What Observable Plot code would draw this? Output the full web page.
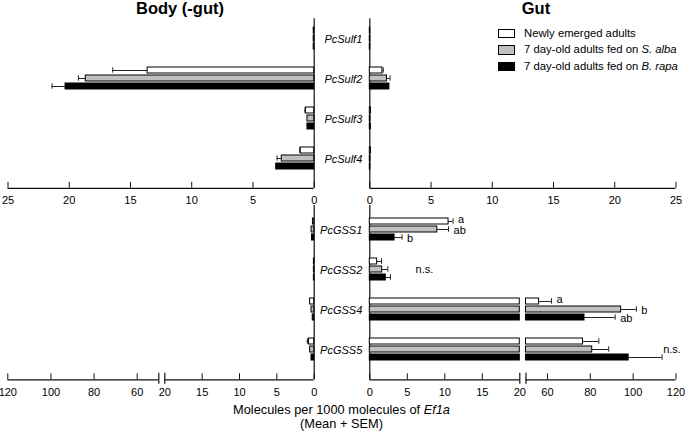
<!DOCTYPE html>
<html>
<head>
<meta charset="utf-8">
<script src="https://cdn.jsdelivr.net/npm/d3@7"></script>
<script src="https://cdn.jsdelivr.net/npm/@observablehq/plot@0.6"></script>
<style>
  body { margin: 0; background: #fff; }
  #chart { position: relative; width: 685px; height: 433px; overflow: hidden;
           font-family: "Liberation Sans", Arial, sans-serif; color: #000; }
  #chart svg { position: absolute; left: 0; top: 0; }
  .title { position: absolute; top: 0; font-weight: bold; font-size: 16.5px; line-height: 17px;
           transform: translateX(-50%); white-space: nowrap; }
  .leg { position: absolute; left: 498px; height: 10px; white-space: nowrap; font-size: 11.3px; }
  .leg .box { position: absolute; left: 0; top: 0; width: 14.5px; height: 7.5px; border: 1px solid #000; }
  .leg .lab { position: absolute; left: 26px; top: -2px; line-height: 13px; }
  .xtitle { position: absolute; left: 341.5px; transform: translateX(-50%); white-space: nowrap;
            font-size: 12.8px; text-align: center; line-height: 14px; }
</style>
</head>
<body>
<div id="chart"></div>
<script>
// ---------------- data ----------------
const groups = ["Newly emerged adults", "7 day-old adults fed on S. alba", "7 day-old adults fed on B. rapa"];
const sulfGenes = ["PcSulf1", "PcSulf2", "PcSulf3", "PcSulf4"];
const gssGenes = ["PcGSS1", "PcGSS2", "PcGSS4", "PcGSS5"];

// Body (-gut), sulfatases: mean and SEM per gene x group
const bodySulfMean = [[0.04, 0.04, 0.04], [13.6, 18.65, 20.3], [0.68, 0.55, 0.55], [1.1, 2.65, 3.1]];
const bodySulfSem  = [[0, 0, 0], [2.85, 0.6, 1.1], [0.07, 0, 0], [0.08, 0.38, 0]];
// Gut, sulfatases
const gutSulfMean = [[0.04, 0.04, 0.04], [1.03, 1.4, 1.6], [0.1, 0.05, 0.08], [0.1, 0.05, 0.05]];
const gutSulfSem  = [[0, 0, 0], [0.07, 0.25, 0], [0, 0, 0], [0, 0, 0]];
// Body (-gut), GSS
const bodyGssMean = [[0.17, 0.35, 0.3], [0.04, 0.04, 0.04], [0.55, 0.36, 0.2], [0.7, 0.54, 0.36]];
const bodyGssSem  = [[0, 0, 0], [0, 0, 0], [0, 0, 0], [0.22, 0, 0]];
// Gut, GSS
const gutGssMean = [[10.5, 9.0, 3.3], [0.98, 1.65, 2.13], [56.1, 94.4, 77.3], [76.6, 80.9, 97.9]];
const gutGssSem  = [[0.6, 1.5, 1.0], [0.58, 0.75, 0.63], [5.8, 7.1, 14.3], [7.4, 7.7, 15.6]];
const gutGssLetters = [["a", "ab", "b"], ["", "", ""], ["a", "b", "ab"], ["", "", ""]];
const gutGssNs = [{gene: "PcGSS2", at: 6.1}, {gene: "PcGSS5", at: 114}];

// tick values
const topTicks = [0, 5, 10, 15, 20, 25];
const nearTicks = [0, 5, 10, 15];
const nearLabels = [0, 5, 10, 15, 20];
const farTicks = [60, 80, 100, 120];

// ---------------- styles ----------------
const fills = ["#ffffff", "#c0c0c0", "#000000"];
const W = 685, H = 433;
const FONT = '"Liberation Sans", Arial, sans-serif';
const chart = document.getElementById("chart");

function slotKeys(genes) {
  return genes.flatMap(g => [`${g}|pre`, `${g}|0`, `${g}|1`, `${g}|2`, `${g}|post`]);
}
function rowsOf(genes, means, sems, letters) {
  return genes.flatMap((g, gi) => groups.map((grp, si) => ({
    gene: g, group: grp, si, key: `${g}|${si}`, mean: means[gi][si], sem: sems[gi][si],
    letter: letters ? letters[gi][si] : ""
  })));
}
function add(svg) { chart.appendChild(svg); }

function panel({rows, genes, domain, range, yRange, frame, cap = Infinity, floor = null,
                geneLabels = false, notes = []}) {
  const far = floor !== null;
  const shown = far ? rows.filter(d => d.mean > floor) : rows;
  const errs = shown.filter(d => d.sem > 0 && d.mean + d.sem <= (far ? Infinity : cap));
  const marks = [];
  if (!far) marks.push(Plot.ruleX([0], {stroke: "#111", strokeWidth: 1.2}));
  marks.push(
    Plot.ruleY(errs, {y: "key", x1: "mean", x2: d => d.mean + d.sem, stroke: "#222"}),
    Plot.tickX(errs, {y: "key", x: d => d.mean + d.sem, stroke: "#222", insetTop: 0.3, insetBottom: 0.3}),
    Plot.barX(shown, {y: "key", x1: far ? floor : 0, x2: d => Math.min(d.mean, cap),
                      fill: "group", stroke: "#000", strokeWidth: 1})
  );
  const lettered = errs.filter(d => d.letter);
  const letterOpts = {y: "key", x: d => d.mean + d.sem, text: "letter", dx: 5, textAnchor: "start", fontSize: 11, fill: "#000"};
  if (lettered.length) marks.push(
    Plot.text(lettered.filter(d => d.si === 0), {...letterOpts, dy: -2}),
    Plot.text(lettered.filter(d => d.si !== 0), {...letterOpts, dy: 0.5})
  );
  if (notes.length) marks.push(Plot.text(notes, {
    y: d => `${d.gene}|1`, x: "at", text: () => "n.s.", textAnchor: "start", fontSize: 11, fill: "#000"
  }));
  if (geneLabels) marks.push(Plot.text(genes, {
    x: 0, y: g => `${g}|1`, text: g => g, dx: -7.5, dy: 1, textAnchor: "end",
    fontStyle: "italic", fontSize: 11, fill: "#000"
  }));
  add(Plot.plot({
    width: W, height: H,
    marginTop: frame[0], marginBottom: H - frame[1], marginLeft: 0, marginRight: 0,
    x: {domain, range, axis: null},
    y: {type: "band", domain: slotKeys(genes), range: yRange, paddingInner: 0.3, paddingOuter: 0.15, axis: null},
    color: {domain: groups, range: fills},
    style: {background: "transparent", fontFamily: FONT, fontSize: "11px", overflow: "visible"},
    marks
  }));
}

function axis({domain, range, y, ticks, labels = ticks, breakAt = null}) {
  const marks = [
    Plot.ruleY([0], {x1: domain[0], x2: domain[1], stroke: "#111", strokeWidth: 1.2}),
    Plot.ruleX(ticks, {stroke: "#111"}),
    Plot.axisX({ticks: labels, tickSize: 0, tickPadding: 8, label: null, fontSize: 11, fill: "#000"})
  ];
  if (breakAt !== null) marks.push(Plot.ruleX([breakAt], {y1: -0.75, y2: 1.1, stroke: "#111", strokeWidth: 1.2}));
  add(Plot.plot({
    width: W, height: H,
    marginTop: y - 6, marginBottom: H - y, marginLeft: 0, marginRight: 0,
    x: {domain, range, label: null},
    y: {domain: [0, 1], axis: null},
    style: {background: "transparent", fontFamily: FONT, fontSize: "11px", overflow: "visible"},
    marks
  }));
}

// ---------------- layout ----------------
const topY = [12.3, 183.1], topFrame = [18.3, 187.8];
const botY = [203.6, 374.7], botFrame = [205, 379.3];
const Lzero = 313.7, Rzero = 369.3;

// top row: sulfatases
panel({rows: rowsOf(sulfGenes, bodySulfMean, bodySulfSem), genes: sulfGenes,
       domain: [0, 25], range: [Lzero, 7.5], yRange: topY, frame: topFrame});
panel({rows: rowsOf(sulfGenes, gutSulfMean, gutSulfSem), genes: sulfGenes,
       domain: [0, 25], range: [Rzero, 675.5], yRange: topY, frame: topFrame, geneLabels: true});
axis({domain: [0, 25], range: [Lzero, 7.5], y: topFrame[1], ticks: topTicks});
axis({domain: [0, 25], range: [Rzero, 675.5], y: topFrame[1], ticks: topTicks});

// bottom row: GSS (broken axes)
const bodyGss = rowsOf(gssGenes, bodyGssMean, bodyGssSem);
const gutGss = rowsOf(gssGenes, gutGssMean, gutGssSem, gutGssLetters);
panel({rows: bodyGss, genes: gssGenes, domain: [0, 20], range: [Lzero, 164.3], yRange: botY, frame: botFrame, cap: 20});
panel({rows: gutGss, genes: gssGenes, domain: [0, 20], range: [Rzero, 519.3], yRange: botY, frame: botFrame, cap: 20,
       geneLabels: true, notes: gutGssNs.filter(d => d.at <= 20)});
panel({rows: gutGss, genes: gssGenes, domain: [50, 120], range: [525.5, 675.5], yRange: botY, frame: botFrame, floor: 50,
       notes: gutGssNs.filter(d => d.at > 20)});
axis({domain: [0, 20], range: [Lzero, 164.3], y: botFrame[1], ticks: nearTicks, labels: nearLabels, breakAt: 20});
axis({domain: [50, 120], range: [158.3, 7.3], y: botFrame[1], ticks: farTicks, breakAt: 50});
axis({domain: [0, 20], range: [Rzero, 519.3], y: botFrame[1], ticks: nearTicks, labels: nearLabels, breakAt: 20});
axis({domain: [50, 120], range: [525.5, 675.5], y: botFrame[1], ticks: farTicks, breakAt: 50});

// ---------------- texts ----------------
function div(cls, html, css) {
  const d = document.createElement("div");
  d.className = cls; d.innerHTML = html; Object.assign(d.style, css || {});
  chart.appendChild(d); return d;
}
div("title", "Body (-gut)", {left: "180px"});
div("title", "Gut", {left: "536px"});
groups.forEach((g, i) => {
  const parts = g.split(" on ");
  const label = parts.length > 1 ? `${parts[0]} on <i>${parts[1]}</i>` : g;
  div("leg", `<span class="box" style="background:${fills[i]}"></span><span class="lab">${label}</span>`,
      {top: (28.5 + i * 16.7) + "px"});
});
div("xtitle", "Molecules per 1000 molecules of <i>Ef1a</i><br>(Mean + SEM)", {top: "403px"});
</script>
</body>
</html>
